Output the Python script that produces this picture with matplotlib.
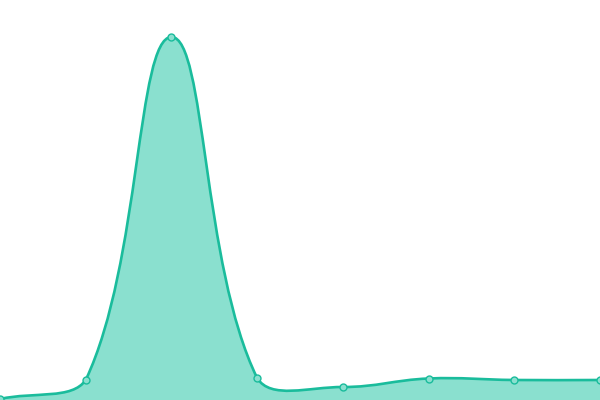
import numpy as np
import matplotlib
matplotlib.use("Agg")
import matplotlib.pyplot as plt
from matplotlib.path import Path
from matplotlib.patches import PathPatch

# Данные
categories = ["1", "2", "3", "4", "5", "6", "7", "8"]
values = [1, 20, 363, 22, 13, 21.5, 20, 20]

LINE_COLOR = "#1abc9c"
FILL_COLOR = "#8ae0cf"
TENSION = 0.4


def spline_controls(pts, tension=TENSION, bottom=0.0, top=400.0, left=0.0, right=600.0):
    """Контрольные точки кривой Безье (как сглаживание с натяжением)."""
    n = len(pts)
    cps = []
    for i in range(n):
        prev = pts[max(i - 1, 0)]
        cur = pts[i]
        nxt = pts[min(i + 1, n - 1)]
        d01 = np.hypot(*(cur - prev))
        d12 = np.hypot(*(nxt - cur))
        tot = d01 + d12
        s01 = d01 / tot if tot > 0 else 0.0
        s12 = d12 / tot if tot > 0 else 0.0
        cp_prev = cur - tension * s01 * (nxt - prev)
        cp_next = cur + tension * s12 * (nxt - prev)
        for cp in (cp_prev, cp_next):
            cp[0] = min(max(cp[0], left), right)
            cp[1] = min(max(cp[1], bottom), top)
        cps.append((cp_prev, cp_next))
    return cps


fig = plt.figure(figsize=(6, 4), dpi=100)
ax = fig.add_axes([0, 0, 1, 1])
ax.set_xlim(0, len(values) - 1)
ax.set_ylim(0, 400)
ax.axis("off")

xs = np.arange(len(values))
pts = ax.transData.transform(np.column_stack([xs, values]))
cps = spline_controls(pts)

verts = [pts[0]]
codes = [Path.MOVETO]
for i in range(len(pts) - 1):
    verts += [cps[i][1], cps[i + 1][0], pts[i + 1]]
    codes += [Path.CURVE4] * 3

inv = ax.transData.inverted()
line_verts = inv.transform(np.array(verts))

# Заливка под кривой
base0 = inv.transform([[pts[-1][0], 0]])[0]
base1 = inv.transform([[pts[0][0], 0]])[0]
fill_verts = np.vstack([line_verts, base0, base1, line_verts[0]])
fill_codes = codes + [Path.LINETO, Path.LINETO, Path.CLOSEPOLY]
ax.add_patch(PathPatch(Path(fill_verts, fill_codes), facecolor=FILL_COLOR,
                       edgecolor="none", zorder=1))

# Линия
ax.add_patch(PathPatch(Path(line_verts, codes), facecolor="none",
                       edgecolor=LINE_COLOR, linewidth=1.9, zorder=2,
                       capstyle="round", joinstyle="round"))

# Точки
ax.plot(xs, values, linestyle="none", marker="o", markersize=5,
        markerfacecolor=FILL_COLOR, markeredgecolor=LINE_COLOR,
        markeredgewidth=1.0, zorder=3, clip_on=False)

fig.savefig("out.png", dpi=100)
